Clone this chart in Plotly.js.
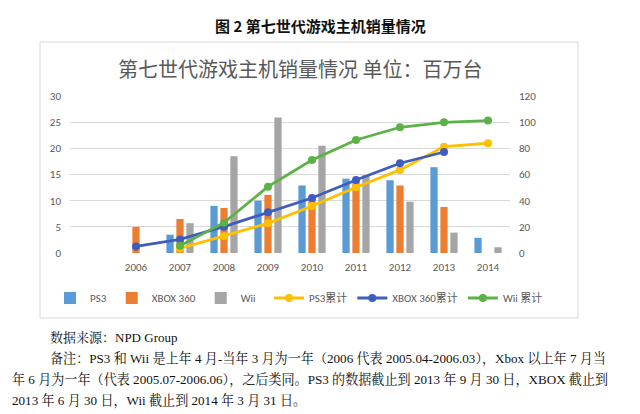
<!DOCTYPE html>
<html>
<head>
<meta charset="utf-8">
<script src="https://cdn.plot.ly/plotly-3.0.1.min.js"></script>
<style>html,body{margin:0;padding:0;background:#fff;}#chart{width:640px;height:414px;}</style>
</head>
<body>
<div id="chart"></div>
<script>
var years = [2006, 2007, 2008, 2009, 2010, 2011, 2012, 2013, 2014];
var yearLabels = ['2006', '2007', '2008', '2009', '2010', '2011', '2012', '2013', '2014'];
var ps3 = [null, 3.5, 9.0, 10.0, 12.9, 14.2, 13.9, 16.4, 2.9];
var xbox = [5.0, 6.5, 8.6, 11.1, 10.4, 13.6, 12.9, 8.8, null];
var wii = [null, 5.7, 18.5, 25.9, 20.5, 14.9, 9.8, 3.9, 1.1];
var ps3Cum = [null, 3.5, 13.0, 22.7, 35.9, 50.2, 63.5, 81.3, 83.9];
var xboxCum = [5.0, 10.4, 20.1, 31.1, 42.0, 55.8, 68.6, 77.2, null];
var wiiCum = [null, 5.6, 23.2, 50.7, 71.1, 86.4, 96.1, 99.9, 101.2];
var leftTicks = [0, 5, 10, 15, 20, 25, 30];
var rightTicks = [0, 20, 40, 60, 80, 100, 120];

var caption = '图 2 第七世代游戏主机销量情况';
var chartTitle = '第七世代游戏主机销量情况 单位：百万台';
var noteLines = [
  '数据来源：NPD Group',
  '备注：PS3 和 Wii 是上年 4 月-当年 3 月为一年（2006 代表 2005.04-2006.03），Xbox 以上年 7 月当',
  '年 6 月为一年（代表 2005.07-2006.06），之后类同。PS3 的数据截止到 2013 年 9 月 30 日，XBOX 截止到',
  '2013 年 6 月 30 日，Wii 截止到 2014 年 3 月 31 日。'
];

var W = 640, H = 414;
var mL = 70, mR = 130, mT = 96, mB = 161;
var pw = W - mL - mR, ph = H - mT - mB;
function px(x) { return (x - mL) / pw; }
function py(y) { return (H - mB - y) / ph; }

var font = 'Calibri, Carlito, "Noto Sans", "Noto Sans CJK SC", sans-serif';
var serif = '"Liberation Serif", "Times New Roman", "Noto Serif CJK SC", "Noto Sans CJK SC", serif';

var traces = [
  {type: 'bar', name: 'PS3', x: years, y: ps3, marker: {color: '#5B9BD5'}, legend: 'legend'},
  {type: 'bar', name: 'XBOX 360', x: years, y: xbox, marker: {color: '#ED7D31'}, legend: 'legend'},
  {type: 'bar', name: 'Wii', x: years, y: wii, marker: {color: '#A5A5A5'}, legend: 'legend'},
  {type: 'scatter', mode: 'lines+markers', name: 'PS3累计', x: years, y: ps3Cum, yaxis: 'y2', legend: 'legend2',
   line: {color: '#FFC000', width: 2.8}, marker: {color: '#FFC000', size: 8}},
  {type: 'scatter', mode: 'lines+markers', name: 'XBOX 360累计', x: years, y: xboxCum, yaxis: 'y2', legend: 'legend2',
   line: {color: '#3F5DBF', width: 2.8}, marker: {color: '#3F5DBF', size: 8}},
  {type: 'scatter', mode: 'lines+markers', name: 'Wii 累计', x: years, y: wiiCum, yaxis: 'y2', legend: 'legend2',
   line: {color: '#5CB247', width: 2.8}, marker: {color: '#5CB247', size: 8}}
];

var annotations = [
  {text: '<b>' + caption + '</b>', xref: 'paper', yref: 'paper', x: px(320), y: py(25),
   xanchor: 'center', yanchor: 'middle', showarrow: false,
   font: {family: '"Noto Sans CJK SC", sans-serif', size: 15, color: '#111'}},
  {text: chartTitle, xref: 'paper', yref: 'paper', x: px(300), y: py(68),
   xanchor: 'center', yanchor: 'middle', showarrow: false,
   font: {family: '"Noto Sans CJK SC", sans-serif', size: 20, color: '#595959'}},
  {text: noteLines[0], xref: 'paper', yref: 'paper', x: px(48), y: py(337),
   xanchor: 'left', yanchor: 'middle', showarrow: false, font: {family: serif, size: 13, color: '#111'}},
  {text: noteLines[1], xref: 'paper', yref: 'paper', x: px(48), y: py(358),
   xanchor: 'left', yanchor: 'middle', showarrow: false, font: {family: serif, size: 13.1, color: '#111'}},
  {text: noteLines[2], xref: 'paper', yref: 'paper', x: px(10), y: py(379),
   xanchor: 'left', yanchor: 'middle', showarrow: false, font: {family: serif, size: 13.1, color: '#111'}},
  {text: noteLines[3], xref: 'paper', yref: 'paper', x: px(10), y: py(400),
   xanchor: 'left', yanchor: 'middle', showarrow: false, font: {family: serif, size: 13.1, color: '#111'}}
];

var legendFont = {family: font, size: 11, color: '#595959'};
var layout = {
  width: W, height: H,
  margin: {l: mL, r: mR, t: mT, b: mB, pad: 0},
  paper_bgcolor: '#fff', plot_bgcolor: 'rgba(0,0,0,0)',
  font: {family: font, color: '#595959', size: 11},
  barmode: 'group', bargap: 0.32, bargroupgap: 0.27,
  showlegend: true,
  legend: {orientation: 'h', x: px(50), y: py(298), xanchor: 'left', yanchor: 'middle',
           font: legendFont, itemwidth: 30, traceorder: 'normal', bgcolor: 'rgba(0,0,0,0)'},
  legend2: {orientation: 'h', x: px(548), y: py(298), xanchor: 'right', yanchor: 'middle',
           font: legendFont, itemwidth: 30, traceorder: 'normal', bgcolor: 'rgba(0,0,0,0)'},
  xaxis: {range: [2004.5, 2014.5], tickvals: years, ticktext: yearLabels, showgrid: false,
          zeroline: false, showline: false, ticks: '', ticklabelstandoff: 6,
          tickfont: {size: 11, color: '#595959'}, fixedrange: true},
  yaxis: {range: [0, 30], tickvals: leftTicks, showgrid: true, gridcolor: '#D9D9D9', gridwidth: 1,
          zeroline: false, showline: false, ticks: '', ticklabelstandoff: 8,
          tickfont: {size: 11, color: '#595959'}},
  yaxis2: {range: [0, 120], tickvals: rightTicks, overlaying: 'y', side: 'right', showgrid: false,
           zeroline: false, showline: false, ticks: '', ticklabelstandoff: 8,
           tickfont: {size: 11, color: '#595959'}},
  shapes: [
    {type: 'rect', xref: 'paper', yref: 'paper', x0: px(40), x1: px(578), y0: py(318), y1: py(42),
     line: {color: '#D9D9D9', width: 1}, fillcolor: 'rgba(0,0,0,0)', layer: 'below'}
  ],
  annotations: annotations
};

Plotly.newPlot('chart', traces, layout, {displayModeBar: false, staticPlot: true});
</script>
</body>
</html>
